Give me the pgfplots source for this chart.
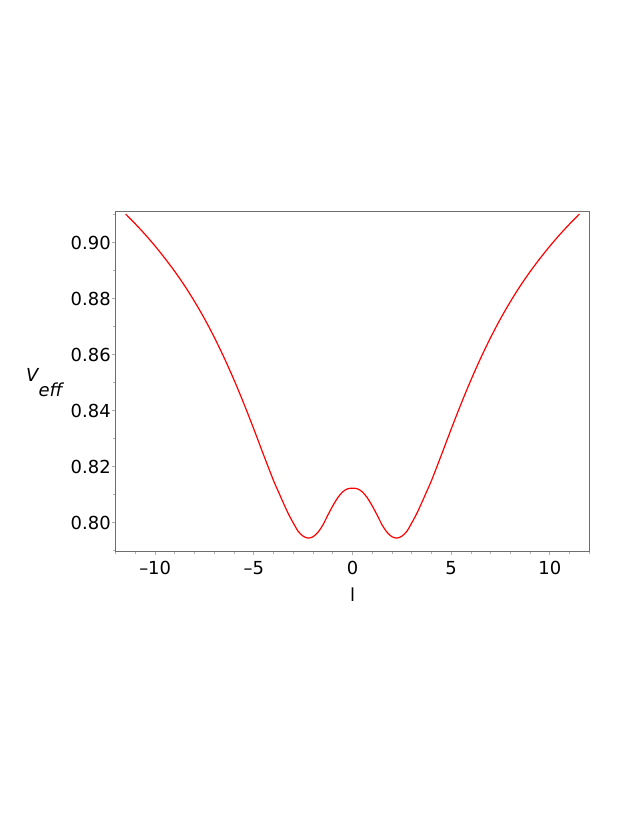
\documentclass[border=0pt]{standalone}
\usepackage{fontspec}
\setmainfont{DejaVu Sans}
\usepackage{pgfplots}
\pgfplotsset{compat=1.18}

\definecolor{axisgray}{HTML}{6E6E6E}
\definecolor{tickgray}{HTML}{B0B0B0}

% effective potential
\pgfplotstableread{
l V
-11.5 0.9102
-11.0 0.9066
-10.5 0.9028
-10.0 0.8987
-9.5 0.8943
-9.0 0.8896
-8.5 0.8845
-8.0 0.8789
-7.5 0.8728
-7.0 0.8661
-6.5 0.8588
-6.0 0.8509
-5.5 0.8424
-5.0 0.8334
-4.5 0.8241
-4.0 0.8150
-3.75 0.8110
-3.5 0.8070
-3.25 0.8032
-3.0 0.7999
-2.75 0.7969
-2.5 0.7952
-2.25 0.7945
-2.0 0.7950
-1.75 0.7966
-1.5 0.7992
-1.25 0.8027
-1.0 0.8060
-0.75 0.8089
-0.5 0.8110
-0.25 0.8121
0 0.8123
0.25 0.8121
0.5 0.8110
0.75 0.8089
1.0 0.8060
1.25 0.8027
1.5 0.7992
1.75 0.7966
2.0 0.7950
2.25 0.7945
2.5 0.7952
2.75 0.7969
3.0 0.7999
3.25 0.8032
3.5 0.8070
3.75 0.8110
4.0 0.8150
4.5 0.8241
5.0 0.8334
5.5 0.8424
6.0 0.8509
6.5 0.8588
7.0 0.8661
7.5 0.8728
8.0 0.8789
8.5 0.8845
9.0 0.8896
9.5 0.8943
10.0 0.8987
10.5 0.9028
11.0 0.9066
11.5 0.9102
}\veff

\begin{document}
\begin{tikzpicture}
\path[use as bounding box] (-115.7bp,-264.7bp) rectangle (515.3bp,551.3bp);
\begin{axis}[
  at={(0,0)}, anchor=south west,
  scale only axis, width=473.6bp, height=339.6bp,
  xmin=-12, xmax=12, ymin=0.7898, ymax=0.911,
  axis line style={axisgray, line width=0.9bp},
  xtick={-10,-5,0,5,10},
  xticklabels={–10,–5,0,5,10},
  ytick={0.80,0.82,0.84,0.86,0.88,0.90},
  yticklabels={0.80,0.82,0.84,0.86,0.88,0.90},
  minor xtick={-12,-11,-10,-9,-8,-7,-6,-5,-4,-3,-2,-1,0,1,2,3,4,5,6,7,8,9,10,11,12},
  minor ytick={0.79,0.80,0.81,0.82,0.83,0.84,0.85,0.86,0.87,0.88,0.89,0.90,0.91},
  tick align=outside, xtick pos=left, ytick pos=left,
  major tick length=4bp, minor tick length=2.5bp,
  every tick/.style={tickgray, line width=0.8bp},
  tick label style={font=\fontsize{18}{20}\selectfont},
  xticklabel style={yshift=-2.5bp},
  yticklabel style={xshift=2.5bp},
  xlabel={l},
  xlabel style={font=\fontsize{18}{20}\selectfont, inner sep=0pt,
    at={(axis description cs:0.5,-0.108)}, anchor=north},
  ylabel={\textit{V}\kern-0.05em\raisebox{-0.83em}{\textit{eff}}},
  ylabel style={font=\fontsize{18}{20}\selectfont, rotate=-90, inner sep=0pt,
    at={(axis description cs:-0.149,0.496)}, anchor=center},
]
\addplot[red, line width=1.2bp, smooth] table[x=l, y=V] {\veff};
\end{axis}
\end{tikzpicture}
\end{document}
